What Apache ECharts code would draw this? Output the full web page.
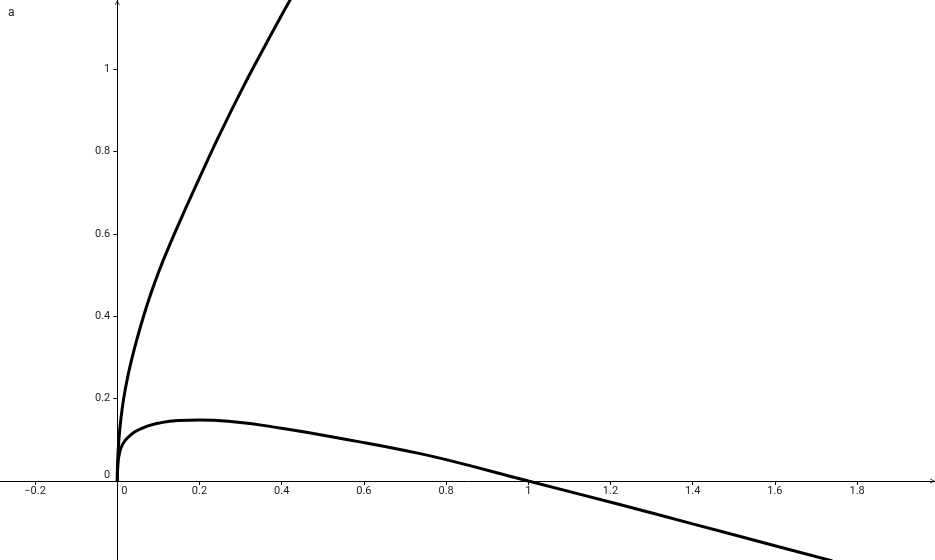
<!DOCTYPE html>
<html>
<head>
<meta charset="utf-8">
<script src="https://cdn.jsdelivr.net/npm/echarts@6/dist/echarts.min.js"></script>
<style>
  html, body { margin: 0; padding: 0; background: #fff; }
  #chart { width: 935px; height: 560px; }
</style>
</head>
<body>
<div id="chart"></div>
<script>
// values
const upperX = [0, 0.001, 0.004, 0.0085, 0.0155, 0.026, 0.037, 0.05, 0.063, 0.078, 0.092, 0.112, 0.142, 0.17, 0.2, 0.25, 0.3, 0.35, 0.4, 0.43];
const upperY = [0, 0.051, 0.102, 0.148, 0.2, 0.256, 0.303, 0.352, 0.397, 0.444, 0.484, 0.536, 0.607, 0.67, 0.736, 0.843, 0.944, 1.039, 1.131, 1.184];

const lowerX = [0, 0.0015, 0.005, 0.012, 0.026, 0.058, 0.099, 0.148, 0.2, 0.27, 0.4, 0.59, 0.7, 0.8, 1.0, 1.22, 1.4, 1.6, 1.74];
const lowerY = [0, 0.04, 0.066, 0.087, 0.106, 0.127, 0.14, 0.147, 0.148, 0.145, 0.128, 0.095, 0.074, 0.052, 0, -0.0565, -0.104, -0.157, -0.194];

const xTicks = [-0.2, 0, 0.2, 0.4, 0.6, 0.8, 1, 1.2, 1.4, 1.6, 1.8];
const yTicks = [0, 0.2, 0.4, 0.6, 0.8, 1];

const xMin = -0.2854, xMax = 1.9896;
const yMin = -0.1917, yMax = 1.1675;

const W = 935, H = 560;

const zip = (xs, ys) => xs.map((x, i) => [x, ys[i]]);

// axes cross at the origin: shift them in from the grid edge
const xAxisOffset = -(0 - yMin) / (yMax - yMin) * H;
const yAxisOffset = -(0 - xMin) / (xMax - xMin) * W;

const arrow = 'path://M0,10 L5,0 L10,10 L8.6,10 L5,2.8 L1.4,10 Z';
const labelFont = { fontFamily: 'Roboto', fontSize: 11, color: '#222' };

const chart = echarts.init(document.getElementById('chart'));

chart.setOption({
    animation: false,
    backgroundColor: '#fff',
    title: {
        text: 'a',
        left: 3,
        top: 2,
        textStyle: { fontFamily: 'Roboto', fontSize: 12, fontWeight: 'normal', color: '#222' }
    },
    grid: { left: 0, right: 0, top: 0, bottom: 0, outerBoundsMode: 'none' },
    xAxis: {
        type: 'value',
        min: xMin,
        max: xMax,
        position: 'bottom',
        offset: xAxisOffset,
        axisLine: {
            onZero: false,
            symbol: ['none', arrow],
            symbolSize: [8, 5],
            symbolOffset: [0, -2.5],
            lineStyle: { color: '#000', width: 1 }
        },
        axisTick: { show: true, length: 4, customValues: xTicks, lineStyle: { color: '#000' } },
        axisLabel: {
            ...labelFont,
            margin: 5,
            customValues: xTicks,
            formatter: v => v === 0 ? '{o|0}' : String(v).replace('-', '\u2212'),
            rich: { o: { ...labelFont, padding: [0, 0, 0, 14] } }
        },
        splitLine: { show: false }
    },
    yAxis: {
        type: 'value',
        min: yMin,
        max: yMax,
        position: 'left',
        offset: yAxisOffset,
        axisLine: {
            onZero: false,
            symbol: ['none', arrow],
            symbolSize: [8, 5],
            symbolOffset: [0, -2.5],
            lineStyle: { color: '#000', width: 1 }
        },
        axisTick: { show: true, length: 4, customValues: yTicks, lineStyle: { color: '#000' } },
        axisLabel: {
            ...labelFont,
            margin: 7,
            customValues: yTicks,
            formatter: v => v === 0 ? '{o|0}' : String(v),
            rich: { o: { ...labelFont, padding: [0, 0, 12, 0] } }
        },
        splitLine: { show: false }
    },
    series: [
        {
            name: 'upper',
            type: 'line',
            data: zip(upperX, upperY),
            showSymbol: false,
            smooth: 0.5,
            clip: true,
            lineStyle: { color: '#000', width: 3 }
        },
        {
            name: 'lower',
            type: 'line',
            data: zip(lowerX, lowerY),
            showSymbol: false,
            smooth: 0.5,
            clip: true,
            lineStyle: { color: '#000', width: 3 }
        }
    ]
});
</script>
</body>
</html>
